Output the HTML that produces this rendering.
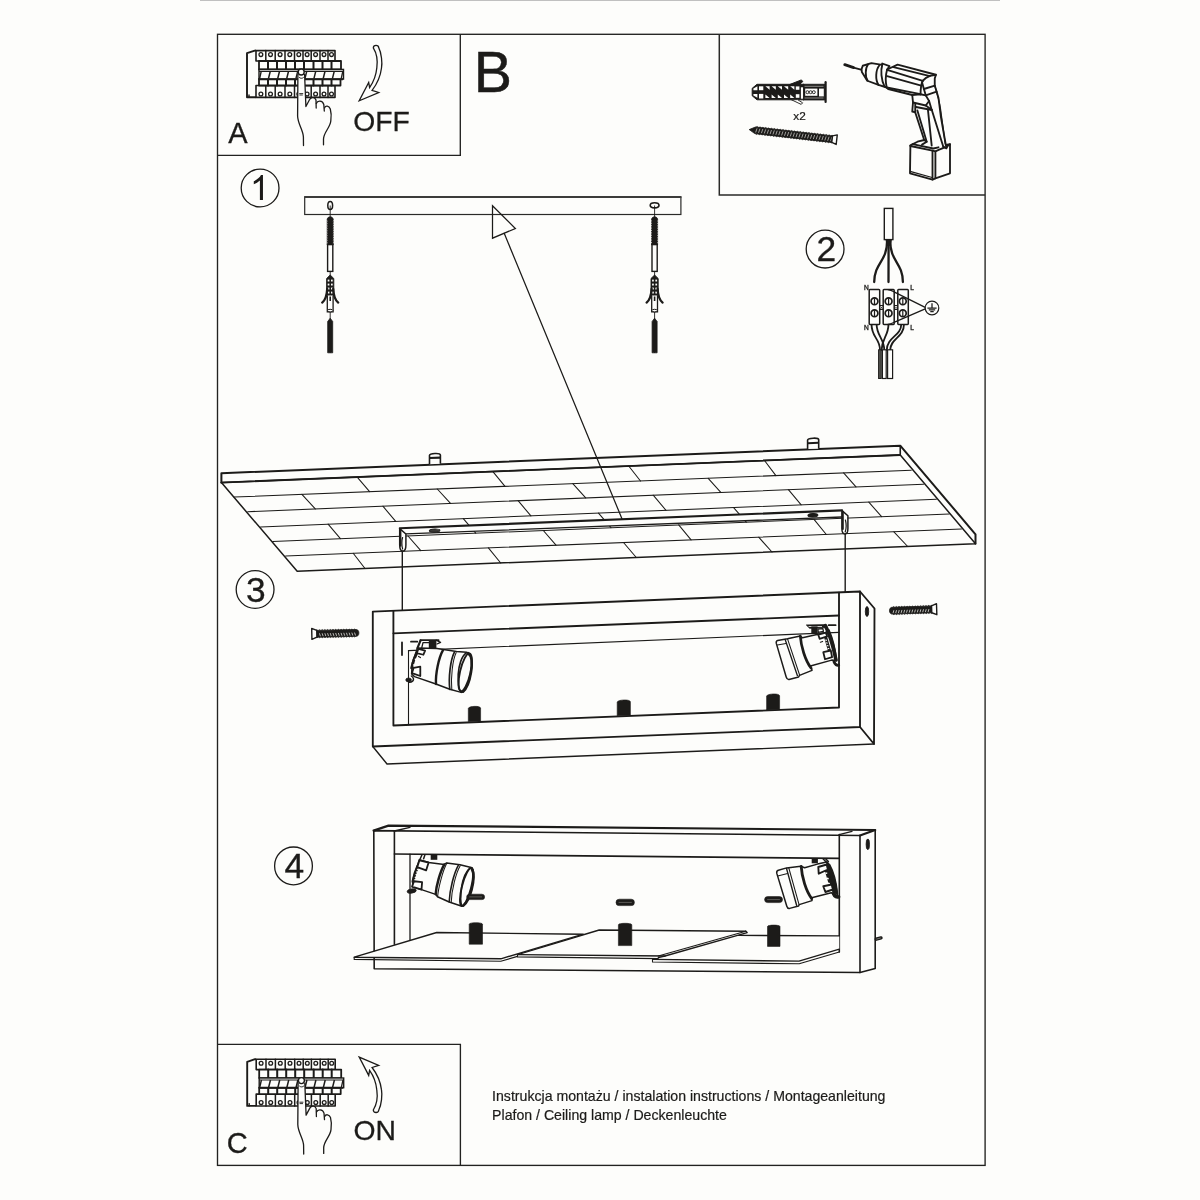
<!DOCTYPE html>
<html><head><meta charset="utf-8"><title>Instrukcja montazu</title>
<style>
html,body{margin:0;padding:0;background:#fdfdfb;}
svg{display:block;will-change:transform}
text{font-family:"Liberation Sans",sans-serif;fill:#1c1b19}
.l{fill:none;stroke:#1c1b19;stroke-width:1.4;stroke-linecap:round;stroke-linejoin:round}
.t{fill:none;stroke:#1c1b19;stroke-width:1.05;stroke-linecap:round;stroke-linejoin:round}
.k{fill:none;stroke:#1c1b19;stroke-width:1.9;stroke-linecap:round;stroke-linejoin:round}
.w{fill:#fdfdfb;stroke:#1c1b19;stroke-width:1.4;stroke-linecap:round;stroke-linejoin:round}
.wt{fill:#fdfdfb;stroke:#1c1b19;stroke-width:1.05;stroke-linecap:round;stroke-linejoin:round}
.dr .l,.dr .w{stroke-width:1.85}
.dr .t{stroke-width:1.2}
.b{fill:#1c1b19;stroke:none}
.bs{fill:#1c1b19;stroke:#1c1b19;stroke-width:1;stroke-linejoin:round}
</style></head>
<body>
<svg width="1200" height="1200" viewBox="0 0 1200 1200">
<rect x="0" y="0" width="1200" height="1200" fill="#fdfdfb"/>
<!-- p_frame -->
<rect x="200" y="0" width="800" height="0.9" fill="#b9b9b9"/>
<rect x="217.5" y="34.3" width="767.6" height="1131.1" fill="none" stroke="#222220" stroke-width="1.35"/>
<path d="M460.3,34.3V155.4H217.5" fill="none" stroke="#222220" stroke-width="1.35"/>
<path d="M719.3,34.3V194.9H985.1" fill="none" stroke="#2a2a28" stroke-width="1.5"/>
<path d="M217.5,1044.3H460.4V1165.4" fill="none" stroke="#222220" stroke-width="1.35"/>
<circle cx="260.1" cy="188" r="18.9" fill="none" stroke="#1c1b19" stroke-width="1.3"/>
<circle cx="825.1" cy="249.1" r="18.9" fill="none" stroke="#1c1b19" stroke-width="1.3"/>
<circle cx="255.1" cy="589.5" r="18.9" fill="none" stroke="#1c1b19" stroke-width="1.3"/>
<circle cx="293.5" cy="865.9" r="18.9" fill="none" stroke="#1c1b19" stroke-width="1.3"/>
<!-- p_text -->
<text x="473.7" y="91.9" font-size="57.3" stroke="#1c1b19" stroke-width="0.5">B</text>
<text x="228.2" y="142.8" font-size="29" stroke="#1c1b19" stroke-width="0.3">A</text>
<text x="226.8" y="1153.2" font-size="29" stroke="#1c1b19" stroke-width="0.3">C</text>
<text x="353.2" y="130.5" font-size="28.3" stroke="#1c1b19" stroke-width="0.3">OFF</text>
<text x="353.4" y="1139.7" font-size="28.3" stroke="#1c1b19" stroke-width="0.3">ON</text>
<text x="793.3" y="120.4" font-size="11.8" stroke="#1c1b19" stroke-width="0.2">x2</text>
<path transform="translate(250.0,200) scale(0.01698,-0.01698)" d="M763,0H583V1147Q518,1085 412.5,1023Q307,961 223,930V1104Q374,1175 487,1276Q600,1377 647,1472H763Z" fill="#1c1b19"/>
<text x="826.4" y="260.7" font-size="35.4" text-anchor="middle" stroke="#1c1b19" stroke-width="0.3">2</text>
<text x="255.9" y="601.6" font-size="35.4" text-anchor="middle" stroke="#1c1b19" stroke-width="0.3">3</text>
<text x="294.4" y="877.7" font-size="35.4" text-anchor="middle" stroke="#1c1b19" stroke-width="0.3">4</text>
<text x="864.1" y="289.7" font-size="6.6" stroke="#1c1b19" stroke-width="0.35">N</text>
<text x="910.2" y="289.7" font-size="6.6" stroke="#1c1b19" stroke-width="0.35">L</text>
<text x="864.1" y="330.4" font-size="6.6" stroke="#1c1b19" stroke-width="0.35">N</text>
<text x="910.2" y="330.4" font-size="6.6" stroke="#1c1b19" stroke-width="0.35">L</text>
<text x="492.1" y="1101.1" font-size="14.13" stroke="#1c1b19" stroke-width="0.2">Instrukcja montażu / instalation instructions / Montageanleitung</text>
<text x="492.1" y="1120.2" font-size="14.13" stroke="#1c1b19" stroke-width="0.2">Plafon / Ceiling lamp / Deckenleuchte</text>
<!-- p_breaker -->
<g id="brk"><path d="M256,50.5L254.8,50.6L247,53.2V97.3H256" fill="#fdfdfb" stroke="#1c1b19" stroke-width="1.9" stroke-linejoin="round"/>
<path d="M249,95V97.3" class="l"/>
<rect x="256" y="50.6" width="79" height="10.4" class="w" style="stroke-width:1.6"/>
<path d="M265.8,50.6V61" class="l" style="stroke-width:1.5"/>
<path d="M275.2,50.6V61" class="l" style="stroke-width:1.5"/>
<path d="M285,50.6V61" class="l" style="stroke-width:1.5"/>
<path d="M294.5,50.6V61" class="l" style="stroke-width:1.5"/>
<path d="M303,50.6V61" class="l" style="stroke-width:1.5"/>
<path d="M311.2,50.6V61" class="l" style="stroke-width:1.5"/>
<path d="M320,50.6V61" class="l" style="stroke-width:1.5"/>
<path d="M328,50.6V61" class="l" style="stroke-width:1.5"/>
<circle cx="260.9" cy="54.6" r="1.9" fill="#fdfdfb" stroke="#1c1b19" stroke-width="1.3"/>
<circle cx="270.5" cy="54.6" r="1.9" fill="#fdfdfb" stroke="#1c1b19" stroke-width="1.3"/>
<circle cx="280.1" cy="54.6" r="1.9" fill="#fdfdfb" stroke="#1c1b19" stroke-width="1.3"/>
<circle cx="289.8" cy="54.6" r="1.9" fill="#fdfdfb" stroke="#1c1b19" stroke-width="1.3"/>
<circle cx="298.8" cy="54.6" r="1.9" fill="#fdfdfb" stroke="#1c1b19" stroke-width="1.3"/>
<circle cx="307.1" cy="54.6" r="1.9" fill="#fdfdfb" stroke="#1c1b19" stroke-width="1.3"/>
<circle cx="315.6" cy="54.6" r="1.9" fill="#fdfdfb" stroke="#1c1b19" stroke-width="1.3"/>
<circle cx="324.0" cy="54.6" r="1.9" fill="#fdfdfb" stroke="#1c1b19" stroke-width="1.3"/>
<circle cx="331.5" cy="54.6" r="1.9" fill="#fdfdfb" stroke="#1c1b19" stroke-width="1.3"/>
<rect x="256" y="85.5" width="79" height="11.9" class="w" style="stroke-width:1.6"/>
<path d="M265.8,85.5V97.4" class="l" style="stroke-width:1.5"/>
<path d="M275.2,85.5V97.4" class="l" style="stroke-width:1.5"/>
<path d="M285,85.5V97.4" class="l" style="stroke-width:1.5"/>
<path d="M294.5,85.5V97.4" class="l" style="stroke-width:1.5"/>
<path d="M303,85.5V97.4" class="l" style="stroke-width:1.5"/>
<path d="M311.2,85.5V97.4" class="l" style="stroke-width:1.5"/>
<path d="M320,85.5V97.4" class="l" style="stroke-width:1.5"/>
<path d="M328,85.5V97.4" class="l" style="stroke-width:1.5"/>
<circle cx="260.9" cy="94" r="1.9" fill="#fdfdfb" stroke="#1c1b19" stroke-width="1.3"/>
<circle cx="270.5" cy="94" r="1.9" fill="#fdfdfb" stroke="#1c1b19" stroke-width="1.3"/>
<circle cx="280.1" cy="94" r="1.9" fill="#fdfdfb" stroke="#1c1b19" stroke-width="1.3"/>
<circle cx="289.8" cy="94" r="1.9" fill="#fdfdfb" stroke="#1c1b19" stroke-width="1.3"/>
<circle cx="298.8" cy="94" r="1.9" fill="#fdfdfb" stroke="#1c1b19" stroke-width="1.3"/>
<circle cx="307.1" cy="94" r="1.9" fill="#fdfdfb" stroke="#1c1b19" stroke-width="1.3"/>
<circle cx="315.6" cy="94" r="1.9" fill="#fdfdfb" stroke="#1c1b19" stroke-width="1.3"/>
<circle cx="324.0" cy="94" r="1.9" fill="#fdfdfb" stroke="#1c1b19" stroke-width="1.3"/>
<circle cx="331.5" cy="94" r="1.9" fill="#fdfdfb" stroke="#1c1b19" stroke-width="1.3"/>
<rect x="259" y="61" width="82" height="8.5" class="w" style="stroke-width:1.8"/>
<path d="M268,61V69.5" class="l" style="stroke-width:2"/>
<path d="M277,61V69.5" class="l" style="stroke-width:2"/>
<path d="M286,61V69.5" class="l" style="stroke-width:2"/>
<path d="M295,61V69.5" class="l" style="stroke-width:2"/>
<path d="M304,61V69.5" class="l" style="stroke-width:2"/>
<path d="M313.5,61V69.5" class="l" style="stroke-width:2"/>
<path d="M322.5,61V69.5" class="l" style="stroke-width:2"/>
<path d="M331.5,61V69.5" class="l" style="stroke-width:2"/>
<rect x="259" y="79" width="81.5" height="6.5" class="w" style="stroke-width:1.8"/>
<path d="M268,79V85.5" class="l" style="stroke-width:2"/>
<path d="M277,79V85.5" class="l" style="stroke-width:2"/>
<path d="M286,79V85.5" class="l" style="stroke-width:2"/>
<path d="M295,79V85.5" class="l" style="stroke-width:2"/>
<path d="M304,79V85.5" class="l" style="stroke-width:2"/>
<path d="M313.5,79V85.5" class="l" style="stroke-width:2"/>
<path d="M322.5,79V85.5" class="l" style="stroke-width:2"/>
<path d="M331.5,79V85.5" class="l" style="stroke-width:2"/>
<rect x="259" y="69.4" width="84.5" height="9.7" fill="#fdfdfb" stroke="#1c1b19" stroke-width="1.4"/>
<path d="M259,71.4H343.5" stroke="#1c1b19" stroke-width="1.1" fill="none"/>
<path d="M258.6,79.2H343" stroke="#1c1b19" stroke-width="2.1" fill="none"/>
<path d="M270.25,71.4L268.45,78.6" stroke="#1c1b19" stroke-width="1.5" fill="none"/>
<path d="M279.50,71.4L277.70,78.6" stroke="#1c1b19" stroke-width="1.5" fill="none"/>
<path d="M288.50,71.4L286.70,78.6" stroke="#1c1b19" stroke-width="1.5" fill="none"/>
<path d="M297.70,71.4L295.90,78.6" stroke="#1c1b19" stroke-width="1.5" fill="none"/>
<path d="M306.70,71.4L304.90,78.6" stroke="#1c1b19" stroke-width="1.5" fill="none"/>
<path d="M315.70,71.4L313.90,78.6" stroke="#1c1b19" stroke-width="1.5" fill="none"/>
<path d="M325.00,71.4L323.20,78.6" stroke="#1c1b19" stroke-width="1.5" fill="none"/>
<path d="M334.20,71.4L332.40,78.6" stroke="#1c1b19" stroke-width="1.5" fill="none"/>
<path d="M261.2,71.4L259.6,78.6" stroke="#1c1b19" stroke-width="1.4" fill="none"/>
<path d="M342.8,71.4L341.2,78.6" stroke="#1c1b19" stroke-width="1.3" fill="none"/>
<path d="M303.5,146L303.4,137C303.2,130 297.8,124 297.6,116L297.9,73L304.6,73L305.9,106.5L309.6,99.5C311,97 315,97 316,100C318,100 322.5,100.5 323.8,104.5C326,105 329,105.5 330.3,109C331.5,113 331.2,118 330.8,121C330,128 323.8,132 323.5,139L323.5,146Z" fill="#fdfdfb" stroke="none"/>
<path d="M303.5,145.5L303.4,137C303.2,130 297.8,124 297.6,116L297.9,74.5" class="l" style="stroke-width:1.3"/>
<path d="M304.6,74.5L305.9,106.5L309.6,99.5C311,97 315,96.8 316,100L316.2,108" class="l" style="stroke-width:1.3"/>
<path d="M316.3,103.5C317.5,100.3 322.5,100.3 323.8,104.5L324.3,111" class="l" style="stroke-width:1.3"/>
<path d="M324.5,108C325.5,105.3 329,105.5 330.3,109C331.5,113 331.2,118 330.8,121C330,128 323.8,132 323.5,139L323.5,144.8" class="l" style="stroke-width:1.3"/>
<circle cx="301.2" cy="72" r="3" fill="#fdfdfb" stroke="#1c1b19" stroke-width="1.4"/>
<path d="M299.4,77.6C300.4,78.6 302.4,78.6 303.4,77.6" class="l" style="stroke-width:1"/>
<path d="M299.6,93.6H302.8M299.8,95H302.4" class="l" style="stroke-width:0.9"/></g>
<use href="#brk" transform="translate(0.2,1008.6)"/>
<g id="arw"><path d="M373.3,47.9C373.4,44.6 378.6,44.6 378.8,47.9C381.5,53 382.4,63 381.5,68C380.5,76 377,84 372.1,90.4L378.7,92.5L359.2,100.8L368.7,82.5L369.6,87.5C373.5,82 376,76 376.8,68C377.8,61 376.5,53 373.3,47.9Z" fill="#fdfdfb" stroke="#1c1b19" stroke-width="1.3" stroke-linejoin="miter"/></g>
<use href="#arw" transform="translate(0,1157.9) scale(1,-1)"/>
<!-- p_tools -->
<path d="M757,84.3H804V99.8H757L752.2,95.8V88.3Z" fill="#1c1b19" stroke="#1c1b19" stroke-width="1" stroke-linejoin="round"/>
<path d="M753.4,88.6L757.4,86.3V90.2H753.4Z" fill="#fdfdfb"/>
<path d="M753.4,93.9H757.4V97.8L753.4,95.4Z" fill="#fdfdfb"/>
<rect x="759" y="86.3" width="4.3" height="3.9" fill="#fdfdfb"/>
<rect x="759" y="93.9" width="4.3" height="4.6" fill="#fdfdfb"/>
<path d="M765.4,86.2H769.6V89.8Z" fill="#fdfdfb"/>
<path d="M765.4,94.4L769.6,98H765.4Z" fill="#fdfdfb"/>
<path d="M771.6,86.2H775.8V89.8Z" fill="#fdfdfb"/>
<path d="M771.6,94.4L775.8,98H771.6Z" fill="#fdfdfb"/>
<path d="M777.8,86.2H782.0V89.8Z" fill="#fdfdfb"/>
<path d="M777.8,94.4L782.0,98H777.8Z" fill="#fdfdfb"/>
<path d="M784.0,86.2H788.2V89.8Z" fill="#fdfdfb"/>
<path d="M784.0,94.4L788.2,98H784.0Z" fill="#fdfdfb"/>
<path d="M790.2,86.2H794.4V89.8Z" fill="#fdfdfb"/>
<path d="M790.2,94.4L794.4,98H790.2Z" fill="#fdfdfb"/>
<rect x="795.8" y="86.4" width="3.6" height="3.4" fill="#fdfdfb"/>
<rect x="795.8" y="94.2" width="3.6" height="3.6" fill="#fdfdfb"/>
<path d="M789.5,84.6L801.4,79.9L802.8,81.6L799,84.8Z" fill="#1c1b19" stroke="#1c1b19" stroke-width="1" stroke-linejoin="round"/>
<path d="M791.5,99.8L801.2,104.4L802.6,102.8L797.5,99.6Z" fill="#fdfdfb" stroke="#1c1b19" stroke-width="0.9" stroke-linejoin="round"/>
<rect x="800.9" y="87.3" width="2.5" height="11.4" fill="#fdfdfb"/>
<rect x="803.6" y="84.2" width="21.2" height="15.8" fill="#1c1b19" stroke="#1c1b19" stroke-width="0.8"/>
<path d="M804.5,86.3H823.5M804.5,98H823.5" stroke="#bdbcb8" stroke-width="0.7"/>
<rect x="805.2" y="88.6" width="12.2" height="7.2" fill="#fdfdfb"/>
<circle cx="807.4" cy="92.2" r="1.5" fill="none" stroke="#1c1b19" stroke-width="0.9"/>
<circle cx="810.6" cy="92.2" r="1.5" fill="none" stroke="#1c1b19" stroke-width="0.9"/>
<circle cx="813.8" cy="92.2" r="1.5" fill="none" stroke="#1c1b19" stroke-width="0.9"/>
<path d="M819,88.6H823.8V96.4H819Z" fill="#fdfdfb"/>
<path d="M825.6,82.2V102" stroke="#1c1b19" stroke-width="2.2" stroke-linecap="round"/>
<g transform="translate(749.2,129.6) rotate(6.58)"><path d="M0,0L6,-3.3 L83.5,-3.3 L83.5,3.3 L6,3.3 Z" fill="#1c1b19" stroke="#1c1b19" stroke-width="0.8" stroke-linejoin="round"/>
<path d="M6.60,-3.30l1.01,-0.7l1.01,0.7M6.60,3.30l1.01,0.7l1.01,-0.7M9.50,-3.30l1.01,-0.7l1.01,0.7M9.50,3.30l1.01,0.7l1.01,-0.7M12.40,-3.30l1.01,-0.7l1.01,0.7M12.40,3.30l1.01,0.7l1.01,-0.7M15.30,-3.30l1.01,-0.7l1.01,0.7M15.30,3.30l1.01,0.7l1.01,-0.7M18.20,-3.30l1.01,-0.7l1.01,0.7M18.20,3.30l1.01,0.7l1.01,-0.7M21.10,-3.30l1.01,-0.7l1.01,0.7M21.10,3.30l1.01,0.7l1.01,-0.7M24.00,-3.30l1.01,-0.7l1.01,0.7M24.00,3.30l1.01,0.7l1.01,-0.7M26.90,-3.30l1.01,-0.7l1.01,0.7M26.90,3.30l1.01,0.7l1.01,-0.7M29.80,-3.30l1.01,-0.7l1.01,0.7M29.80,3.30l1.01,0.7l1.01,-0.7M32.70,-3.30l1.01,-0.7l1.01,0.7M32.70,3.30l1.01,0.7l1.01,-0.7M35.60,-3.30l1.01,-0.7l1.01,0.7M35.60,3.30l1.01,0.7l1.01,-0.7M38.50,-3.30l1.01,-0.7l1.01,0.7M38.50,3.30l1.01,0.7l1.01,-0.7M41.40,-3.30l1.01,-0.7l1.01,0.7M41.40,3.30l1.01,0.7l1.01,-0.7M44.30,-3.30l1.01,-0.7l1.01,0.7M44.30,3.30l1.01,0.7l1.01,-0.7M47.20,-3.30l1.01,-0.7l1.01,0.7M47.20,3.30l1.01,0.7l1.01,-0.7M50.10,-3.30l1.01,-0.7l1.01,0.7M50.10,3.30l1.01,0.7l1.01,-0.7M53.00,-3.30l1.01,-0.7l1.01,0.7M53.00,3.30l1.01,0.7l1.01,-0.7M55.90,-3.30l1.01,-0.7l1.01,0.7M55.90,3.30l1.01,0.7l1.01,-0.7M58.80,-3.30l1.01,-0.7l1.01,0.7M58.80,3.30l1.01,0.7l1.01,-0.7M61.70,-3.30l1.01,-0.7l1.01,0.7M61.70,3.30l1.01,0.7l1.01,-0.7M64.60,-3.30l1.01,-0.7l1.01,0.7M64.60,3.30l1.01,0.7l1.01,-0.7M67.50,-3.30l1.01,-0.7l1.01,0.7M67.50,3.30l1.01,0.7l1.01,-0.7M70.40,-3.30l1.01,-0.7l1.01,0.7M70.40,3.30l1.01,0.7l1.01,-0.7M73.30,-3.30l1.01,-0.7l1.01,0.7M73.30,3.30l1.01,0.7l1.01,-0.7M76.20,-3.30l1.01,-0.7l1.01,0.7M76.20,3.30l1.01,0.7l1.01,-0.7M79.10,-3.30l1.01,-0.7l1.01,0.7M79.10,3.30l1.01,0.7l1.01,-0.7M82.00,-3.30l1.01,-0.7l1.01,0.7M82.00,3.30l1.01,0.7l1.01,-0.7" fill="#1c1b19" stroke="#1c1b19" stroke-width="0.5"/>
<path d="M7.65,-2.10L6.75,2.10" stroke="#dddcd8" stroke-width="0.65" fill="none"/>
<path d="M10.55,-2.10L9.65,2.10" stroke="#dddcd8" stroke-width="0.65" fill="none"/>
<path d="M13.45,-2.10L12.55,2.10" stroke="#dddcd8" stroke-width="0.65" fill="none"/>
<path d="M16.35,-2.10L15.45,2.10" stroke="#dddcd8" stroke-width="0.65" fill="none"/>
<path d="M19.25,-2.10L18.35,2.10" stroke="#dddcd8" stroke-width="0.65" fill="none"/>
<path d="M22.15,-2.10L21.25,2.10" stroke="#dddcd8" stroke-width="0.65" fill="none"/>
<path d="M25.05,-2.10L24.15,2.10" stroke="#dddcd8" stroke-width="0.65" fill="none"/>
<path d="M27.95,-2.10L27.05,2.10" stroke="#dddcd8" stroke-width="0.65" fill="none"/>
<path d="M30.85,-2.10L29.95,2.10" stroke="#dddcd8" stroke-width="0.65" fill="none"/>
<path d="M33.75,-2.10L32.85,2.10" stroke="#dddcd8" stroke-width="0.65" fill="none"/>
<path d="M36.65,-2.10L35.75,2.10" stroke="#dddcd8" stroke-width="0.65" fill="none"/>
<path d="M39.55,-2.10L38.65,2.10" stroke="#dddcd8" stroke-width="0.65" fill="none"/>
<path d="M42.45,-2.10L41.55,2.10" stroke="#dddcd8" stroke-width="0.65" fill="none"/>
<path d="M45.35,-2.10L44.45,2.10" stroke="#dddcd8" stroke-width="0.65" fill="none"/>
<path d="M48.25,-2.10L47.35,2.10" stroke="#dddcd8" stroke-width="0.65" fill="none"/>
<path d="M51.15,-2.10L50.25,2.10" stroke="#dddcd8" stroke-width="0.65" fill="none"/>
<path d="M54.05,-2.10L53.15,2.10" stroke="#dddcd8" stroke-width="0.65" fill="none"/>
<path d="M56.95,-2.10L56.05,2.10" stroke="#dddcd8" stroke-width="0.65" fill="none"/>
<path d="M59.85,-2.10L58.95,2.10" stroke="#dddcd8" stroke-width="0.65" fill="none"/>
<path d="M62.75,-2.10L61.85,2.10" stroke="#dddcd8" stroke-width="0.65" fill="none"/>
<path d="M65.65,-2.10L64.75,2.10" stroke="#dddcd8" stroke-width="0.65" fill="none"/>
<path d="M68.55,-2.10L67.65,2.10" stroke="#dddcd8" stroke-width="0.65" fill="none"/>
<path d="M71.45,-2.10L70.55,2.10" stroke="#dddcd8" stroke-width="0.65" fill="none"/>
<path d="M74.35,-2.10L73.45,2.10" stroke="#dddcd8" stroke-width="0.65" fill="none"/>
<path d="M77.25,-2.10L76.35,2.10" stroke="#dddcd8" stroke-width="0.65" fill="none"/>
<path d="M80.15,-2.10L79.25,2.10" stroke="#dddcd8" stroke-width="0.65" fill="none"/>
<path d="M83.05,-2.10L82.15,2.10" stroke="#dddcd8" stroke-width="0.65" fill="none"/>
<path d="M83.5,-3.3 L88.1,-4.8 L88.1,4.8 L83.5,3.3 Z" fill="#fdfdfb" stroke="#1c1b19" stroke-width="1.4" stroke-linejoin="round"/></g>
<g class="dr"><path d="M844.8,64.7L853.6,67.6" stroke="#1c1b19" stroke-width="2.9" stroke-linecap="round" fill="none"/>
<path d="M853.6,67.6L861.8,69.9" stroke="#1c1b19" stroke-width="1.8" fill="none"/>
<path d="M862.75,65.75L871.4,63.1L882.25,64.85L882.25,63.5L889.5,66.2L887.1,69.5L886.75,87.5L878.5,84.9L867.25,80.75L861.85,72.1L861.6,69.1Z" class="w" />
<path d="M868,64.4C865.2,68 865,77 867.6,80.6" class="l" />
<path d="M879.6,65C875.4,70 875.2,80 878.5,84.9" class="l" />
<path d="M882.25,64.85C880.6,70 881,80 884.6,86.6" class="l" />
<path d="M887.1,69.5L897.6,64.6L935.9,74.75L934.75,78.5L934.75,85.6L936.6,91.6L925.75,95.4L920.5,94.25L912.25,95L888.25,89L886.75,87.5C885.4,82 885.6,75 887.1,69.5Z" class="w" />
<path d="M893.5,67.2 L929.9,76.1" class="l" />
<path d="M887.1,69.9 L922.8,80.8" class="l" />
<path d="M887.1,76.2 L921.2,85.6" class="l" />
<path d="M886.8,87.5 L920.5,94.2" class="l" />
<path d="M922.8,80.8 L926.1,77.8 L929.9,75.9 L935.9,74.8" class="l" />
<path d="M922.75,80.75C921.2,84 920.6,89 920.5,94.25" class="l" />
<path d="M922.0,82.2 L923.9,89.0 L925.8,95.4" class="l" />
<path d="M923.9,89.0 L934.8,85.6" class="l" />
<path d="M912.25,95L913,102.5L925.75,105.5L929.1,101L925.75,95.4" class="l" />
<path d="M913,102.5L912.25,111.5L915.25,112.25L915.25,104" class="l" />
<path d="M916,107L931.75,110L929.1,101" class="l" />
<path d="M925.8,105.5 L931.8,110.0" class="l" />
<path d="M915.2,112.2 L924.2,140.0" class="l" />
<path d="M917.4,110.4 L926.7,141.7" class="l" />
<path d="M927.9,109.4 L931.7,145.6" class="l" />
<path d="M931.8,110.0 L943.3,146.7" class="l" />
<path d="M936.6,91.6L938.5,98L940.75,116L945.8,145" class="l" />
<path d="M934.75,85.6C936.6,92 939,100 940.4,108L945.2,143.3" class="t" />
<path d="M910.4,145.4L917.5,141.7L924.2,140L926.7,141.7L922,144.6" class="l" />
<path d="M910.4,145.6L910,173.3L932.5,179.6L935.4,178.3L950,173.3L950,144.2L945.8,145" class="l" />
<path d="M912.5,144.2 L933.3,148.5 L938.5,147.3" class="l" />
<path d="M910.4,146.0 L932.5,150.6 L935.4,151.3 L939.2,149.6 L946.0,146.8 L950.0,144.2" class="l" />
<path d="M932.5,150.6 L932.5,179.6" class="l" />
<path d="M935.4,151.3 L935.4,178.3" class="l" />
<path d="M911.0,171.6 L932.1,177.5" class="t" />
<path d="M943.3,146.7L946.4,148.4L947.6,146" class="l" /></g>
<!-- p_step1 -->
<rect x="304.7" y="197.1" width="376.2" height="17.4" fill="none" stroke="#2a2a28" stroke-width="1.2"/>
<path d="M304.2,197.1H681.4" stroke="#3c3c3a" stroke-width="2"/>
<ellipse cx="330.2" cy="205.4" rx="2.4" ry="4" fill="#fdfdfb" stroke="#1c1b19" stroke-width="1.5"/>
<path d="M330.2,205.5V353" stroke="#1c1b19" stroke-width="0.9"/>
<path d="M327.2,219.2C327.8,216 332.6,216 333.2,219.2V245H327.2Z" fill="#1c1b19" stroke="#1c1b19" stroke-width="0.8"/>
<path d="M326.6,220.5l0.9,0.7M333.8,220.5l-0.9,0.7" stroke="#fdfdfb" stroke-width="0.7"/>
<path d="M326.6,222.9l0.9,0.7M333.8,222.9l-0.9,0.7" stroke="#fdfdfb" stroke-width="0.7"/>
<path d="M326.6,225.3l0.9,0.7M333.8,225.3l-0.9,0.7" stroke="#fdfdfb" stroke-width="0.7"/>
<path d="M326.6,227.7l0.9,0.7M333.8,227.7l-0.9,0.7" stroke="#fdfdfb" stroke-width="0.7"/>
<path d="M326.6,230.1l0.9,0.7M333.8,230.1l-0.9,0.7" stroke="#fdfdfb" stroke-width="0.7"/>
<path d="M326.6,232.5l0.9,0.7M333.8,232.5l-0.9,0.7" stroke="#fdfdfb" stroke-width="0.7"/>
<path d="M326.6,234.9l0.9,0.7M333.8,234.9l-0.9,0.7" stroke="#fdfdfb" stroke-width="0.7"/>
<path d="M326.6,237.3l0.9,0.7M333.8,237.3l-0.9,0.7" stroke="#fdfdfb" stroke-width="0.7"/>
<path d="M326.6,239.7l0.9,0.7M333.8,239.7l-0.9,0.7" stroke="#fdfdfb" stroke-width="0.7"/>
<path d="M326.6,242.1l0.9,0.7M333.8,242.1l-0.9,0.7" stroke="#fdfdfb" stroke-width="0.7"/>
<rect x="327.6" y="244.6" width="5.2" height="26.8" fill="#fdfdfb" stroke="#1c1b19" stroke-width="1.4"/>
<path d="M330.2,275L333.8,278.5V295.5H326.6V278.5Z" fill="#1c1b19" stroke="#1c1b19" stroke-width="0.9" stroke-linejoin="round"/>
<rect x="327.7" y="279.6" width="1.7" height="1.9" fill="#fdfdfb"/>
<rect x="331.0" y="279.6" width="1.7" height="1.9" fill="#fdfdfb"/>
<rect x="327.7" y="283.6" width="1.7" height="1.9" fill="#fdfdfb"/>
<rect x="331.0" y="283.6" width="1.7" height="1.9" fill="#fdfdfb"/>
<rect x="327.7" y="287.6" width="1.7" height="1.9" fill="#fdfdfb"/>
<rect x="331.0" y="287.6" width="1.7" height="1.9" fill="#fdfdfb"/>
<rect x="327.7" y="291.6" width="1.7" height="1.9" fill="#fdfdfb"/>
<rect x="331.0" y="291.6" width="1.7" height="1.9" fill="#fdfdfb"/>
<path d="M327.3,295.5V311.8H333.1V295.5" fill="#fdfdfb" stroke="#1c1b19" stroke-width="1.3"/>
<ellipse cx="330.2" cy="310.6" rx="2.7" ry="1.3" fill="#fdfdfb" stroke="#1c1b19" stroke-width="1"/>
<path d="M330.2,296.5V301" stroke="#1c1b19" stroke-width="1.6"/>
<path d="M327.2,289C326.8,296 324.8,300.5 322.2,302.6" fill="none" stroke="#1c1b19" stroke-width="2.3" stroke-linecap="round"/>
<path d="M333.2,289C333.6,296 335.6,300.5 338.2,302.6" fill="none" stroke="#1c1b19" stroke-width="2.3" stroke-linecap="round"/>
<path d="M330.2,318.2L332.7,321.5V352.8H327.7V321.5Z" fill="#1c1b19" stroke="#1c1b19" stroke-width="0.8" stroke-linejoin="round"/>
<ellipse cx="654.6" cy="205.3" rx="4.4" ry="2.6" fill="#fdfdfb" stroke="#1c1b19" stroke-width="1.6"/>
<path d="M654.6,205.5V353" stroke="#1c1b19" stroke-width="0.9"/>
<path d="M651.6,219.2C652.2,216 657.0,216 657.6,219.2V245H651.6Z" fill="#1c1b19" stroke="#1c1b19" stroke-width="0.8"/>
<path d="M651.0,220.5l0.9,0.7M658.2,220.5l-0.9,0.7" stroke="#fdfdfb" stroke-width="0.7"/>
<path d="M651.0,222.9l0.9,0.7M658.2,222.9l-0.9,0.7" stroke="#fdfdfb" stroke-width="0.7"/>
<path d="M651.0,225.3l0.9,0.7M658.2,225.3l-0.9,0.7" stroke="#fdfdfb" stroke-width="0.7"/>
<path d="M651.0,227.7l0.9,0.7M658.2,227.7l-0.9,0.7" stroke="#fdfdfb" stroke-width="0.7"/>
<path d="M651.0,230.1l0.9,0.7M658.2,230.1l-0.9,0.7" stroke="#fdfdfb" stroke-width="0.7"/>
<path d="M651.0,232.5l0.9,0.7M658.2,232.5l-0.9,0.7" stroke="#fdfdfb" stroke-width="0.7"/>
<path d="M651.0,234.9l0.9,0.7M658.2,234.9l-0.9,0.7" stroke="#fdfdfb" stroke-width="0.7"/>
<path d="M651.0,237.3l0.9,0.7M658.2,237.3l-0.9,0.7" stroke="#fdfdfb" stroke-width="0.7"/>
<path d="M651.0,239.7l0.9,0.7M658.2,239.7l-0.9,0.7" stroke="#fdfdfb" stroke-width="0.7"/>
<path d="M651.0,242.1l0.9,0.7M658.2,242.1l-0.9,0.7" stroke="#fdfdfb" stroke-width="0.7"/>
<rect x="652.0" y="244.6" width="5.2" height="26.8" fill="#fdfdfb" stroke="#1c1b19" stroke-width="1.4"/>
<path d="M654.6,275L658.2,278.5V295.5H651.0V278.5Z" fill="#1c1b19" stroke="#1c1b19" stroke-width="0.9" stroke-linejoin="round"/>
<rect x="652.1" y="279.6" width="1.7" height="1.9" fill="#fdfdfb"/>
<rect x="655.4" y="279.6" width="1.7" height="1.9" fill="#fdfdfb"/>
<rect x="652.1" y="283.6" width="1.7" height="1.9" fill="#fdfdfb"/>
<rect x="655.4" y="283.6" width="1.7" height="1.9" fill="#fdfdfb"/>
<rect x="652.1" y="287.6" width="1.7" height="1.9" fill="#fdfdfb"/>
<rect x="655.4" y="287.6" width="1.7" height="1.9" fill="#fdfdfb"/>
<rect x="652.1" y="291.6" width="1.7" height="1.9" fill="#fdfdfb"/>
<rect x="655.4" y="291.6" width="1.7" height="1.9" fill="#fdfdfb"/>
<path d="M651.7,295.5V311.8H657.5V295.5" fill="#fdfdfb" stroke="#1c1b19" stroke-width="1.3"/>
<ellipse cx="654.6" cy="310.6" rx="2.7" ry="1.3" fill="#fdfdfb" stroke="#1c1b19" stroke-width="1"/>
<path d="M654.6,296.5V301" stroke="#1c1b19" stroke-width="1.6"/>
<path d="M651.6,289C651.2,296 649.2,300.5 646.6,302.6" fill="none" stroke="#1c1b19" stroke-width="2.3" stroke-linecap="round"/>
<path d="M657.6,289C658.0,296 660.0,300.5 662.6,302.6" fill="none" stroke="#1c1b19" stroke-width="2.3" stroke-linecap="round"/>
<path d="M654.6,318.2L657.1,321.5V352.8H652.1V321.5Z" fill="#1c1b19" stroke="#1c1b19" stroke-width="0.8" stroke-linejoin="round"/>
<!-- p_step2 -->
<path d="M887.1,240C887.4,262 874.6,262 874.2,282" class="k" style="stroke-width:2.3"/>
<path d="M888.6,240L888.5,282" class="k" style="stroke-width:2.3"/>
<path d="M890.2,240C890,262 902.6,262 902.9,282" class="k" style="stroke-width:2.3"/>
<path d="M885.6,240H891.8L890.5,246H886.8Z" fill="#1c1b19"/>
<rect x="884.3" y="208.4" width="8.6" height="31.2" fill="#fdfdfb" stroke="#1c1b19" stroke-width="1.4"/>
<path d="M871.5,324C871.5,338 880,338 880,350" class="l" style="stroke-width:1.8"/>
<path d="M876.6,324C876.6,336 884,338 884.3,350" class="l" style="stroke-width:1.8"/>
<path d="M888.5,324C888.5,336 882,338 881.6,350" class="l" style="stroke-width:1.8"/>
<path d="M901.3,324C901.3,336 887,337 886.8,350" class="l" style="stroke-width:1.8"/>
<path d="M904,324C904,338 890.5,338 890.2,350" class="l" style="stroke-width:1.8"/>
<rect x="878.6" y="349.8" width="2.6" height="28.7" fill="#55544f" stroke="#1c1b19" stroke-width="1"/>
<rect x="882.4" y="349.8" width="3.8" height="28.7" fill="#fdfdfb" stroke="#1c1b19" stroke-width="1.2"/>
<rect x="887.6" y="349.8" width="5" height="28.7" fill="#fdfdfb" stroke="#1c1b19" stroke-width="1.2"/>
<rect x="869.2" y="289.6" width="10.5" height="34.8" rx="0.8" fill="#fdfdfb" stroke="#1c1b19" stroke-width="1.5"/>
<rect x="883.2" y="289.6" width="11.0" height="34.8" rx="0.8" fill="#fdfdfb" stroke="#1c1b19" stroke-width="1.5"/>
<rect x="897.8" y="289.6" width="10.5" height="34.8" rx="0.8" fill="#fdfdfb" stroke="#1c1b19" stroke-width="1.5"/>
<path d="M879.8,305.5H883.2M879.8,309.3H883.2" stroke="#1c1b19" stroke-width="1.2"/>
<path d="M880.7,306.6l1.6,1.7m0,-1.7l-1.6,1.7" stroke="#1c1b19" stroke-width="0.6"/>
<path d="M894.2,305.5H897.8M894.2,309.3H897.8" stroke="#1c1b19" stroke-width="1.2"/>
<path d="M895.2,306.6l1.6,1.7m0,-1.7l-1.6,1.7" stroke="#1c1b19" stroke-width="0.6"/>
<path d="M888,289.6C890.5,289.8 892,290.6 894,291.8L925.2,307.4M888,324.4C890.5,324.2 892,323.4 894,322.4L925.2,308.8" class="l" style="stroke-width:1.3"/>
<circle cx="874.5" cy="301.3" r="3.4" fill="#fdfdfb" stroke="#1c1b19" stroke-width="1.7"/>
<path d="M874.5,298.3V304.3" stroke="#1c1b19" stroke-width="1.2"/>
<circle cx="874.5" cy="313.3" r="3.4" fill="#fdfdfb" stroke="#1c1b19" stroke-width="1.7"/>
<path d="M874.5,310.3V316.3" stroke="#1c1b19" stroke-width="1.2"/>
<circle cx="888.6" cy="301.3" r="3.4" fill="#fdfdfb" stroke="#1c1b19" stroke-width="1.7"/>
<path d="M888.6,298.3V304.3" stroke="#1c1b19" stroke-width="1.2"/>
<circle cx="888.6" cy="313.3" r="3.4" fill="#fdfdfb" stroke="#1c1b19" stroke-width="1.7"/>
<path d="M888.6,310.3V316.3" stroke="#1c1b19" stroke-width="1.2"/>
<circle cx="902.8" cy="301.3" r="3.4" fill="#fdfdfb" stroke="#1c1b19" stroke-width="1.7"/>
<path d="M902.8,298.3V304.3" stroke="#1c1b19" stroke-width="1.2"/>
<circle cx="902.8" cy="313.3" r="3.4" fill="#fdfdfb" stroke="#1c1b19" stroke-width="1.7"/>
<path d="M902.8,310.3V316.3" stroke="#1c1b19" stroke-width="1.2"/>
<circle cx="932" cy="308" r="6.8" fill="#fdfdfb" stroke="#1c1b19" stroke-width="1.2"/>
<path d="M932,303.2V308M927.4,308H936.6M928.8,309.9H935.2M930.3,311.6H933.7" stroke="#1c1b19" stroke-width="1.25" fill="none"/>
<!-- p_step3 -->
<path d="M221.4,473.2L900.25,445.7L975.5,534.3V543.7L297.2,571.2L221.4,482.6Z" fill="#fdfdfb" stroke="none"/>
<path d="M234.2,497.1L911.3,470.2" class="t"/>
<path d="M247.7,511.7L923.6,484.2" class="t"/>
<path d="M260.5,526.9L936.4,499.3" class="t"/>
<path d="M272.7,541.5L949.3,513.9" class="t"/>
<path d="M285.6,556.0L961.5,529.1" class="t"/>
<path d="M357.2,477.1L369.6,491.7" class="t"/>
<path d="M492.9,471.6L505.0,486.3" class="t"/>
<path d="M628.7,466.0L640.5,481.0" class="t"/>
<path d="M764.5,460.5L775.9,475.6" class="t"/>
<path d="M301.9,494.4L315.3,508.9" class="t"/>
<path d="M437.3,489.0L450.5,503.4" class="t"/>
<path d="M572.8,483.6L585.7,497.9" class="t"/>
<path d="M708.2,478.3L720.8,492.4" class="t"/>
<path d="M843.6,472.9L856.0,486.9" class="t"/>
<path d="M382.9,506.2L395.7,521.4" class="t"/>
<path d="M518.1,500.7L530.9,515.9" class="t"/>
<path d="M653.2,495.2L666.0,510.3" class="t"/>
<path d="M788.4,489.7L801.2,504.8" class="t"/>
<path d="M328.1,524.1L340.4,538.7" class="t"/>
<path d="M463.3,518.6L475.7,533.2" class="t"/>
<path d="M598.5,513.1L611.0,527.7" class="t"/>
<path d="M733.6,507.6L746.3,522.2" class="t"/>
<path d="M868.8,502.1L881.6,516.7" class="t"/>
<path d="M408.0,536.0L420.8,550.6" class="t"/>
<path d="M543.3,530.5L556.0,545.2" class="t"/>
<path d="M678.7,524.9L691.1,539.9" class="t"/>
<path d="M814.0,519.4L826.3,534.5" class="t"/>
<path d="M353.2,553.3L365.0,568.5" class="t"/>
<path d="M488.4,547.9L500.7,563.0" class="t"/>
<path d="M623.5,542.5L636.3,557.5" class="t"/>
<path d="M758.7,537.2L772.0,552.0" class="t"/>
<path d="M893.9,531.8L907.7,546.5" class="t"/>
<path d="M221.4,482.6L900.25,455.0L975.5,543.7L297.2,571.2Z" class="l" style="stroke-width:1.5"/>
<path d="M221.4,482.6V473.2L900.25,445.7L975.5,534.3V543.7" class="l" style="stroke-width:2"/>
<path d="M900.25,445.7V455" class="l" style="stroke-width:1.6"/>
<path d="M221.4,482.6L900.25,455.0" class="l" style="stroke-width:1.8"/>
<path d="M429.5,464.2V455.4C429.8,453.2 440.1,452.6 440.4,455.0V463.8" fill="#fdfdfb" stroke="#1c1b19" stroke-width="1.6"/>
<path d="M429.5,458.0L440.4,457.6" stroke="#1c1b19" stroke-width="2.1"/>
<path d="M807.6,449.1V440.1C807.9,437.9 818.4,437.3 818.7,439.7V448.7" fill="#fdfdfb" stroke="#1c1b19" stroke-width="1.6"/>
<path d="M807.6,443.2L818.7,442.8" stroke="#1c1b19" stroke-width="2.1"/>
<path d="M623.5,522.5L504.2,233.3" class="l" style="stroke-width:1.25"/>
<path d="M492.5,205.8L515.4,228.5L492.5,238.2Z" fill="none" stroke="#1c1b19" stroke-width="1.25" stroke-linejoin="miter"/>
<path d="M399.6,528.3L842.1,510.4L841.9,517.0L405.8,533.9L402,535Z" fill="#fdfdfb" stroke="none"/>
<path d="M399.8,528.3L842.1,510.4" class="l" style="stroke-width:2.1"/>
<path d="M405.8,533.8L841.7,517.0" class="l" style="stroke-width:1.3"/>
<ellipse cx="434.6" cy="530.6" rx="5.3" ry="1.7" fill="#3a3936" stroke="#1c1b19" stroke-width="1" transform="rotate(-2.3 434.6 530.6)"/>
<ellipse cx="812.9" cy="515.3" rx="5.0" ry="1.7" fill="#1c1b19" stroke="#1c1b19" stroke-width="1" transform="rotate(-2.3 812.9 515.3)"/>
<path d="M399.7,528.6V545C399.7,549.5 401,551.2 402.8,551.2C404.6,551.2 405.9,549.5 405.9,545V534L399.7,528.6Z" fill="#fdfdfb" stroke="#1c1b19" stroke-width="1.5" stroke-linejoin="round"/>
<path d="M402.6,537.5C401.6,540 401.6,546 402.6,549" class="l" style="stroke-width:1.2"/>
<path d="M400.6,530V546" class="l" style="stroke-width:1.6"/>
<path d="M842,510.6L847.9,515.8V528.5C847.9,532.5 846.6,534 845,534C843.2,534 841.9,532.5 841.9,528.5V510.6Z" fill="#fdfdfb" stroke="#1c1b19" stroke-width="1.5" stroke-linejoin="round"/>
<path d="M845.4,520C846.2,523 846.2,529 845.2,532" class="l" style="stroke-width:1.2"/>
<path d="M842.8,512V529" class="l" style="stroke-width:2"/>
<path d="M402.3,551V611.5" class="l" style="stroke-width:1.4"/>
<path d="M845.2,534V592.2" class="l" style="stroke-width:1.4"/>
<path d="M372.8,611.6L860,591.5L874.5,608.5L874,744L387,764L372.8,746.5Z" fill="#fdfdfb" stroke="none"/>
<path d="M408.5,650.6L839,632.4" class="t" style="stroke-width:1.1"/>
<path d="M408.5,650.6V724.6" class="t" style="stroke-width:1.1"/>
<path d="M372.8,611.6L860,591.5V727L372.8,746.5Z" class="l" style="stroke-width:1.85"/>
<path d="M860,591.5L874.5,608.5L874,744L860,727" class="l" style="stroke-width:1.85"/>
<path d="M372.8,746.5L387,764L874,744" class="l" style="stroke-width:1.4"/>
<path d="M393.4,611L393.4,725.5L839,707.5L839,592.6" class="l" style="stroke-width:1.85"/>
<path d="M393.4,633.3L839,615.5" class="l" style="stroke-width:1.85"/>
<ellipse cx="867" cy="611.5" rx="1.7" ry="5" fill="#1c1b19" stroke="#1c1b19" stroke-width="0.8"/>
<path d="M402,642.4V655" class="l" style="stroke-width:1.8"/>
<path d="M411,641.7H417.3" class="l" style="stroke-width:1.8"/>
<path d="M828.7,625.2H835.6" class="l" style="stroke-width:1.8"/>
<path d="M468.3,721.6V708.6C468.3,706.0 480.6,705.4 480.6,708.2V721.1Z" fill="#1c1b19" stroke="#1c1b19" stroke-width="0.6"/>
<path d="M617.2,715.8V702.2C617.2,699.6 630.4,699.0 630.4,701.8V715.3Z" fill="#1c1b19" stroke="#1c1b19" stroke-width="0.6"/>
<path d="M766.6,710.0V696.2C766.6,693.6 779.6,693.0 779.6,695.8V709.5Z" fill="#1c1b19" stroke="#1c1b19" stroke-width="0.6"/>
<g transform="translate(0,0)"><path d="M420.4,640.2H438.6" class="l" style="stroke-width:1.8"/>
<path d="M436,640.2L440.6,642.3L437,644" class="l" style="stroke-width:1.3"/>
<rect x="428.8" y="640.6" width="7.6" height="8" fill="#1c1b19"/>
<path d="M420.6,640.4L417.4,648.2" class="l" style="stroke-width:2.2"/>
<path d="M423,642.7L421.8,647.6M423,642.7H428.8" class="l" style="stroke-width:1.3"/>
<path d="M417.5,648L437,648.6L456.5,651.6L466.5,652.2C471.6,654 472.6,662 471,672C469.4,682 465.6,692 461.2,692.4L449.8,689.3L435.9,684L414.5,676.6L411.6,674L412.3,663Z" fill="#fdfdfb" stroke="#1c1b19" stroke-width="1.5" stroke-linejoin="round"/>
<ellipse cx="465.2" cy="672.3" rx="5.2" ry="19.4" transform="rotate(13 465.2 672.3)" fill="#fdfdfb" stroke="#1c1b19" stroke-width="1.9"/>
<path d="M466.2,653C461.4,656 458.8,666 458.2,674C457.8,683 459,690 461.2,692.2" class="l" style="stroke-width:1.6"/>
<path d="M468,653C472,656 472.4,664 471,672.6C469.6,681 466.4,689 463,691.8" class="l" style="stroke-width:2.5"/>
<path d="M454.3,652.4C450.4,660 448.4,678 449.8,689.3" class="l" style="stroke-width:1.7"/>
<path d="M456.2,652.6C452.6,660 450.6,678 451.8,689.8" class="t"/>
<path d="M443,650.2C438.6,658 435.4,674 436,684" class="l" style="stroke-width:2.4"/>
<path d="M417,652.6C414.6,657 412.6,663 411.6,668" class="l" style="stroke-width:2.8"/>
<path d="M418.4,648.9L425.1,650.6L423.4,654.75L416.75,653.1Z" fill="#fdfdfb" stroke="#1c1b19" stroke-width="1.8" stroke-linejoin="round"/>
<path d="M413.6,667.9L420.3,666.6L420.3,676L412,673.1Z" fill="#fdfdfb" stroke="#1c1b19" stroke-width="1.8" stroke-linejoin="round"/>
<rect x="414.8" y="658.6" width="1.3" height="1.4" fill="#fdfdfb"/>
<rect x="413.2" y="664.2" width="1.3" height="1.5" fill="#fdfdfb"/>
<path d="M418.6,656.4L420.4,657.6" class="l" style="stroke-width:1.2"/>
<ellipse cx="408.6" cy="679.9" rx="2.8" ry="1.9" fill="#1c1b19" stroke="#1c1b19" stroke-width="0.8"/>
<path d="M411.4,676C413.6,677.6 414.2,679.6 412.6,681.2C411.4,682.2 409.6,682.4 408.6,682.2" class="l" style="stroke-width:1.5"/></g>
<g transform="translate(0,0)"><path d="M806.4,625L825,624.7L825.6,627.6L809.6,628.2Z" fill="#1c1b19" stroke="#1c1b19" stroke-width="0.9" stroke-linejoin="round"/>
<path d="M808.6,626.5H822" stroke="#fdfdfb" stroke-width="0.8"/>
<rect x="811.3" y="626.4" width="6.3" height="7.6" fill="#1c1b19"/>
<path d="M777.6,640.6L787.5,638.8L800.2,636L802.5,637.8L815.8,634.7L818.3,634.5L825.8,632.4L829,630C832.5,638 835.5,650 836.6,660.5L831.7,660.1L810.4,666L811.6,668.4L812,670.4L799.5,675.4L798.6,677L789,679.4C787.6,679.6 786.6,678.4 786.2,677L776.3,643.4C776,641.6 776.5,640.8 777.6,640.6Z" fill="#fdfdfb" stroke="#1c1b19" stroke-width="1.5" stroke-linejoin="round"/>
<path d="M785.2,639.6L797.4,675.6" class="l" style="stroke-width:1.4"/>
<path d="M787.6,639.2L799.6,675" class="t"/>
<path d="M777.4,645L786,643.4" class="t"/>
<path d="M800.3,636C801,646 805,660 811,668" class="l" style="stroke-width:2.7"/>
<path d="M817.9,629L822.9,628.6L823.4,631.4L818.2,632.4Z" fill="#fdfdfb" stroke="#1c1b19" stroke-width="1.3" stroke-linejoin="round"/>
<path d="M825.6,637C827,642 828.4,647 829.6,651" class="l" style="stroke-width:3"/>
<rect x="825.4" y="639.4" width="1.7" height="1.1" fill="#fdfdfb" transform="rotate(16 825.4 639.4)"/>
<rect x="826.2" y="642.2" width="1.7" height="1.1" fill="#fdfdfb" transform="rotate(16 826.2 642.2)"/>
<rect x="827.0" y="645.0" width="1.7" height="1.1" fill="#fdfdfb" transform="rotate(16 827.0 645.0)"/>
<rect x="827.8" y="647.8" width="1.7" height="1.1" fill="#fdfdfb" transform="rotate(16 827.8 647.8)"/>
<path d="M818.3,634.7L825.8,632.6L827.1,636.3L819.6,638.8Z" fill="#fdfdfb" stroke="#1c1b19" stroke-width="1.8" stroke-linejoin="round"/>
<path d="M823.3,652.2L830.8,650.5L832.1,657.2L825,659.25Z" fill="#fdfdfb" stroke="#1c1b19" stroke-width="1.8" stroke-linejoin="round"/>
<path d="M820.4,642.2L822.6,641.4" class="l" style="stroke-width:1.1"/>
<path d="M825.4,625.6C829.6,634 833.6,648 836,660" class="l" style="stroke-width:3.6"/>
<path d="M834,661.6C835,664.6 837.2,665.8 838.6,665" class="l" style="stroke-width:3"/></g>
<g transform="translate(359.2,632.9) rotate(-1.21) scale(-1,1)"><path d="M42.40,3.40 L3.00,3.40 C-0.60,3.40 -0.60,-3.40 3.00,-3.40 L42.40,-3.40 Z" fill="#1c1b19" stroke="#1c1b19" stroke-width="0.8" stroke-linejoin="round"/>
<path d="M3.60,-3.40l0.94,-0.7l0.94,0.7M3.60,3.40l0.94,0.7l0.94,-0.7M6.30,-3.40l0.94,-0.7l0.94,0.7M6.30,3.40l0.94,0.7l0.94,-0.7M9.00,-3.40l0.94,-0.7l0.94,0.7M9.00,3.40l0.94,0.7l0.94,-0.7M11.70,-3.40l0.94,-0.7l0.94,0.7M11.70,3.40l0.94,0.7l0.94,-0.7M14.40,-3.40l0.94,-0.7l0.94,0.7M14.40,3.40l0.94,0.7l0.94,-0.7M17.10,-3.40l0.94,-0.7l0.94,0.7M17.10,3.40l0.94,0.7l0.94,-0.7M19.80,-3.40l0.94,-0.7l0.94,0.7M19.80,3.40l0.94,0.7l0.94,-0.7M22.50,-3.40l0.94,-0.7l0.94,0.7M22.50,3.40l0.94,0.7l0.94,-0.7M25.20,-3.40l0.94,-0.7l0.94,0.7M25.20,3.40l0.94,0.7l0.94,-0.7M27.90,-3.40l0.94,-0.7l0.94,0.7M27.90,3.40l0.94,0.7l0.94,-0.7M30.60,-3.40l0.94,-0.7l0.94,0.7M30.60,3.40l0.94,0.7l0.94,-0.7M33.30,-3.40l0.94,-0.7l0.94,0.7M33.30,3.40l0.94,0.7l0.94,-0.7M36.00,-3.40l0.94,-0.7l0.94,0.7M36.00,3.40l0.94,0.7l0.94,-0.7M38.70,-3.40l0.94,-0.7l0.94,0.7M38.70,3.40l0.94,0.7l0.94,-0.7M41.40,-3.40l0.94,-0.7l0.94,0.7M41.40,3.40l0.94,0.7l0.94,-0.7" fill="#1c1b19" stroke="#1c1b19" stroke-width="0.5"/>
<path d="M4.65,-0.40L3.75,2.50" stroke="#dddcd8" stroke-width="0.8" fill="none"/>
<path d="M7.35,-0.40L6.45,2.50" stroke="#dddcd8" stroke-width="0.8" fill="none"/>
<path d="M10.05,-0.40L9.15,2.50" stroke="#dddcd8" stroke-width="0.8" fill="none"/>
<path d="M12.75,-0.40L11.85,2.50" stroke="#dddcd8" stroke-width="0.8" fill="none"/>
<path d="M15.45,-0.40L14.55,2.50" stroke="#dddcd8" stroke-width="0.8" fill="none"/>
<path d="M18.15,-0.40L17.25,2.50" stroke="#dddcd8" stroke-width="0.8" fill="none"/>
<path d="M20.85,-0.40L19.95,2.50" stroke="#dddcd8" stroke-width="0.8" fill="none"/>
<path d="M23.55,-0.40L22.65,2.50" stroke="#dddcd8" stroke-width="0.8" fill="none"/>
<path d="M26.25,-0.40L25.35,2.50" stroke="#dddcd8" stroke-width="0.8" fill="none"/>
<path d="M28.95,-0.40L28.05,2.50" stroke="#dddcd8" stroke-width="0.8" fill="none"/>
<path d="M31.65,-0.40L30.75,2.50" stroke="#dddcd8" stroke-width="0.8" fill="none"/>
<path d="M34.35,-0.40L33.45,2.50" stroke="#dddcd8" stroke-width="0.8" fill="none"/>
<path d="M37.05,-0.40L36.15,2.50" stroke="#dddcd8" stroke-width="0.8" fill="none"/>
<path d="M39.75,-0.40L38.85,2.50" stroke="#dddcd8" stroke-width="0.8" fill="none"/>
<path d="M42.4,-3.4 L47.4,-5.5 L47.4,5.5 L42.4,3.4 Z" fill="#fdfdfb" stroke="#1c1b19" stroke-width="1.4" stroke-linejoin="round"/></g>
<g transform="translate(889.2,610.8) rotate(-1.93)"><path d="M42.50,3.40 L3.00,3.40 C-0.60,3.40 -0.60,-3.40 3.00,-3.40 L42.50,-3.40 Z" fill="#1c1b19" stroke="#1c1b19" stroke-width="0.8" stroke-linejoin="round"/>
<path d="M3.60,-3.40l0.94,-0.7l0.94,0.7M3.60,3.40l0.94,0.7l0.94,-0.7M6.30,-3.40l0.94,-0.7l0.94,0.7M6.30,3.40l0.94,0.7l0.94,-0.7M9.00,-3.40l0.94,-0.7l0.94,0.7M9.00,3.40l0.94,0.7l0.94,-0.7M11.70,-3.40l0.94,-0.7l0.94,0.7M11.70,3.40l0.94,0.7l0.94,-0.7M14.40,-3.40l0.94,-0.7l0.94,0.7M14.40,3.40l0.94,0.7l0.94,-0.7M17.10,-3.40l0.94,-0.7l0.94,0.7M17.10,3.40l0.94,0.7l0.94,-0.7M19.80,-3.40l0.94,-0.7l0.94,0.7M19.80,3.40l0.94,0.7l0.94,-0.7M22.50,-3.40l0.94,-0.7l0.94,0.7M22.50,3.40l0.94,0.7l0.94,-0.7M25.20,-3.40l0.94,-0.7l0.94,0.7M25.20,3.40l0.94,0.7l0.94,-0.7M27.90,-3.40l0.94,-0.7l0.94,0.7M27.90,3.40l0.94,0.7l0.94,-0.7M30.60,-3.40l0.94,-0.7l0.94,0.7M30.60,3.40l0.94,0.7l0.94,-0.7M33.30,-3.40l0.94,-0.7l0.94,0.7M33.30,3.40l0.94,0.7l0.94,-0.7M36.00,-3.40l0.94,-0.7l0.94,0.7M36.00,3.40l0.94,0.7l0.94,-0.7M38.70,-3.40l0.94,-0.7l0.94,0.7M38.70,3.40l0.94,0.7l0.94,-0.7M41.40,-3.40l0.94,-0.7l0.94,0.7M41.40,3.40l0.94,0.7l0.94,-0.7" fill="#1c1b19" stroke="#1c1b19" stroke-width="0.5"/>
<path d="M4.65,-0.40L3.75,2.50" stroke="#dddcd8" stroke-width="0.8" fill="none"/>
<path d="M7.35,-0.40L6.45,2.50" stroke="#dddcd8" stroke-width="0.8" fill="none"/>
<path d="M10.05,-0.40L9.15,2.50" stroke="#dddcd8" stroke-width="0.8" fill="none"/>
<path d="M12.75,-0.40L11.85,2.50" stroke="#dddcd8" stroke-width="0.8" fill="none"/>
<path d="M15.45,-0.40L14.55,2.50" stroke="#dddcd8" stroke-width="0.8" fill="none"/>
<path d="M18.15,-0.40L17.25,2.50" stroke="#dddcd8" stroke-width="0.8" fill="none"/>
<path d="M20.85,-0.40L19.95,2.50" stroke="#dddcd8" stroke-width="0.8" fill="none"/>
<path d="M23.55,-0.40L22.65,2.50" stroke="#dddcd8" stroke-width="0.8" fill="none"/>
<path d="M26.25,-0.40L25.35,2.50" stroke="#dddcd8" stroke-width="0.8" fill="none"/>
<path d="M28.95,-0.40L28.05,2.50" stroke="#dddcd8" stroke-width="0.8" fill="none"/>
<path d="M31.65,-0.40L30.75,2.50" stroke="#dddcd8" stroke-width="0.8" fill="none"/>
<path d="M34.35,-0.40L33.45,2.50" stroke="#dddcd8" stroke-width="0.8" fill="none"/>
<path d="M37.05,-0.40L36.15,2.50" stroke="#dddcd8" stroke-width="0.8" fill="none"/>
<path d="M39.75,-0.40L38.85,2.50" stroke="#dddcd8" stroke-width="0.8" fill="none"/>
<path d="M42.5,-3.4 L47.5,-5.5 L47.5,5.5 L42.5,3.4 Z" fill="#fdfdfb" stroke="#1c1b19" stroke-width="1.4" stroke-linejoin="round"/></g>
<!-- p_step4 -->
<path d="M373.6,830.6L388.5,825.6L875.2,830V968.5L860,972.5L374.2,968.7Z" fill="#fdfdfb" stroke="none"/>
<path d="M410,854.2V941" class="l" style="stroke-width:1.3"/>
<path d="M373.6,830.6L388.5,825.6L875.2,830L860,835.5" class="l" style="stroke-width:2.2"/>
<path d="M394.2,831L410,827.4M839.2,834.6L852,831.4" class="l" style="stroke-width:1.3"/>
<path d="M373.8,830.6L860,835.5V972.5L374.2,968.7Z" class="l" style="stroke-width:1.6"/>
<path d="M875.2,830V968.5L860,972.5" class="l" style="stroke-width:1.6"/>
<ellipse cx="867.8" cy="844.3" rx="1.7" ry="5.4" fill="#1c1b19" stroke="#1c1b19" stroke-width="0.8"/>
<path d="M876.2,939.2L881,937.9" stroke="#1c1b19" stroke-width="3.4" stroke-linecap="round"/>
<path d="M876.6,939.1L880.4,938.1" stroke="#8a8984" stroke-width="0.8" stroke-linecap="round"/>
<path d="M394.4,831V944.2" class="l" style="stroke-width:1.6"/>
<path d="M839.3,834.6V952" class="l" style="stroke-width:1.6"/>
<path d="M394.4,854L839.3,858.4" class="l" style="stroke-width:1.6"/>
<rect x="764.6" y="896.6" width="17.9" height="6.0" rx="3.0" fill="#1c1b19" stroke="#1c1b19" stroke-width="0.6"/><path d="M767.2,899.6H779.9" stroke="#6b6a66" stroke-width="0.8"/>
<rect x="616.0" y="899.2" width="18.4" height="6.4" rx="3.2" fill="#1c1b19" stroke="#1c1b19" stroke-width="0.6"/><path d="M618.6,902.4H631.8" stroke="#6b6a66" stroke-width="0.8"/>
<rect x="430.7" y="854.6" width="6.6" height="5.2" fill="#1c1b19"/>
<path d="M421.9,855L419.8,859.8M424.8,855.2L423.6,858.8" class="l" style="stroke-width:1.5"/>
<path d="M419.4,859.6L428.6,862.5L444.2,864.4L446.7,862.9L460,864.8L471.2,867.4C474.4,869.6 474.2,878 472,887.6C469.8,897 465.6,905.6 461.9,906.3L449.2,902L437.5,896.7L435.7,894.4L421.5,889.6L412.4,886.9L413.4,878Z" fill="#fdfdfb" stroke="#1c1b19" stroke-width="1.5" stroke-linejoin="round"/>
<ellipse cx="466.6" cy="886.9" rx="4.6" ry="19.6" transform="rotate(14.5 466.6 886.9)" fill="#fdfdfb" stroke="#1c1b19" stroke-width="1.9"/>
<path d="M470.6,867.6C465.8,871 462.6,880 461.4,888C460.4,896 460.6,903 461.9,906" class="l" style="stroke-width:1.5"/>
<path d="M471.6,868.4C474.2,873 473.6,882 471.6,889.6C469.6,897 466.6,903 463.4,905.6" class="l" style="stroke-width:2.6"/>
<path d="M458.3,865.4C454,873 449.6,890 449.2,901.8" class="l" style="stroke-width:1.6"/>
<path d="M460.2,865.8C456,873 451.6,890 451.2,902.4" class="t"/>
<path d="M444.2,864.6C440,872 436.2,886 435.7,894.2" class="l" style="stroke-width:2.5"/>
<path d="M446.9,863C442.6,871 438.4,888 437.6,896.6" class="t"/>
<path d="M417.6,866.6C415.6,871 413.8,877 413,881.4" class="l" style="stroke-width:3"/>
<rect x="416.8" y="868.9" width="1.7" height="1.1" fill="#fdfdfb" transform="rotate(-14 416.8 868.9)"/>
<rect x="416.0" y="871.6" width="1.7" height="1.1" fill="#fdfdfb" transform="rotate(-14 416.0 871.6)"/>
<rect x="415.3" y="874.3" width="1.7" height="1.1" fill="#fdfdfb" transform="rotate(-14 415.3 874.3)"/>
<rect x="414.6" y="877.0" width="1.7" height="1.1" fill="#fdfdfb" transform="rotate(-14 414.6 877.0)"/>
<rect x="413.9" y="879.6" width="1.7" height="1.1" fill="#fdfdfb" transform="rotate(-14 413.9 879.6)"/>
<path d="M419.4,860.4L428.6,862.5L426.1,870.4L417.3,867.1Z" fill="#fdfdfb" stroke="#1c1b19" stroke-width="1.8" stroke-linejoin="round"/>
<path d="M414,881.25L422.1,882.1L421.5,889.6L412.1,886.7Z" fill="#fdfdfb" stroke="#1c1b19" stroke-width="1.8" stroke-linejoin="round"/>
<ellipse cx="411.7" cy="891" rx="4.6" ry="2.1" fill="#1c1b19" stroke="#1c1b19" stroke-width="0.8" transform="rotate(-10 411.7 891)"/>
<rect x="811.7" y="858" width="6.2" height="5.3" fill="#1c1b19"/>
<path d="M823,858.8L826.4,862.2M825.6,858.8L828.4,861.6" class="l" style="stroke-width:1.5"/>
<path d="M778.4,870.2L786.7,867.9L800.8,866.2L804.6,867.8L817.5,864.1L826.7,862C831.6,869 836,882 837.6,895.8L831.25,892.8L811.7,897.8L812,900.6L799.2,904.6L798.6,906L789.6,908.4C788.2,908.6 787.2,907.6 786.8,906.2L776.8,873.4C776.4,871.6 777,870.6 778.4,870.2Z" fill="#fdfdfb" stroke="#1c1b19" stroke-width="1.5" stroke-linejoin="round"/>
<path d="M786.5,868.4L796.6,905.2" class="l" style="stroke-width:1.4"/>
<path d="M788.8,868L799,904.4" class="t"/>
<path d="M777.8,876L787.6,873.6" class="t"/>
<path d="M801.2,866.4C801.8,877 806,891 811.7,898.6" class="l" style="stroke-width:2.8"/>
<path d="M826.7,862L829.6,864.4C833.4,871 836.4,882 837.6,893.6L833,893L831.7,884.5L829.4,876L827.9,869.5Z" fill="#1c1b19" stroke="#1c1b19" stroke-width="1.2" stroke-linejoin="round"/>
<path d="M826.4,870.6C828,876 829.6,881 830.6,885" class="l" style="stroke-width:3.2"/>
<rect x="825.6" y="872.2" width="1.9" height="1.5" fill="#fdfdfb" transform="rotate(14 825.6 872.2)"/>
<rect x="827.0" y="877.6" width="1.9" height="1.5" fill="#fdfdfb" transform="rotate(14 827.0 877.6)"/>
<rect x="828.2" y="882.6" width="1.9" height="1.5" fill="#fdfdfb" transform="rotate(14 828.2 882.6)"/>
<path d="M818.3,867L826.7,864.5L827.9,869.5L818.75,873.7Z" fill="#fdfdfb" stroke="#1c1b19" stroke-width="1.9" stroke-linejoin="round"/>
<path d="M823.3,886.2L831.7,884.5L832.9,889.5L825.4,892Z" fill="#fdfdfb" stroke="#1c1b19" stroke-width="1.9" stroke-linejoin="round"/>
<path d="M833.4,894C834.6,897 837,897.8 838.8,896.8" class="l" style="stroke-width:3.2"/>
<rect x="466.7" y="894.2" width="17.9" height="5.4" rx="2.7" fill="#1c1b19" stroke="#1c1b19" stroke-width="0.6"/><path d="M469.3,896.9H482.0" stroke="#6b6a66" stroke-width="0.8"/>
<path d="M738.3,935.4L839.3,935.9V949.2L799.2,961.2L658,958.2Z" fill="#fdfdfb" stroke="none"/>
<path d="M738.3,935.4L839.3,935.9" class="l" style="stroke-width:1.4"/>
<path d="M652.5,959.4L799,961.2L839.3,949.2" class="l" style="stroke-width:1.3"/>
<path d="M652.5,959.4V962L799.2,963.8L839.3,952" class="l" style="stroke-width:1.1"/>
<path d="M767.5,946.4V926.6C767.5,924.6 780.0,924.6 780.0,926.6V946.4Z" fill="#1c1b19" stroke="#1c1b19" stroke-width="0.6"/>
<path d="M599.2,930L745.8,931.3L747,932.4L658.3,957.6L517.5,954.7Z" fill="#fdfdfb" stroke="none"/>
<path d="M517.5,954.7L599.2,930L745.8,931.3" class="l" style="stroke-width:1.4"/>
<path d="M745.8,931.3L747.2,932.6L665,956L658.3,957.6" class="l" style="stroke-width:1.3"/>
<path d="M745.8,931.3L658.3,956" class="l" style="stroke-width:1.1"/>
<path d="M517.5,954.7L665,956" class="l" style="stroke-width:1.3"/>
<path d="M517.5,954.7V956.9L658.3,958.6" class="l" style="stroke-width:1.1"/>
<path d="M618.4,945.6V924.8C618.4,922.8 631.8,922.8 631.8,924.8V945.6Z" fill="#1c1b19" stroke="#1c1b19" stroke-width="0.6"/>
<path d="M354.2,957.4L436.7,932.5L583.3,934.2L500.8,959.2Z" fill="#fdfdfb" stroke="none"/>
<path d="M354.2,957.2L436.7,932.5L583.3,934.2L500.8,958.8Z" class="l" style="stroke-width:1.4"/>
<path d="M354.2,957.2V959.4L500.8,961.2L517.5,956.4" class="l" style="stroke-width:1.1"/>
<path d="M469.2,944.2V924.2C469.2,922.2 482.5,922.2 482.5,924.2V944.2Z" fill="#1c1b19" stroke="#1c1b19" stroke-width="0.6"/>
</svg>
</body></html>
